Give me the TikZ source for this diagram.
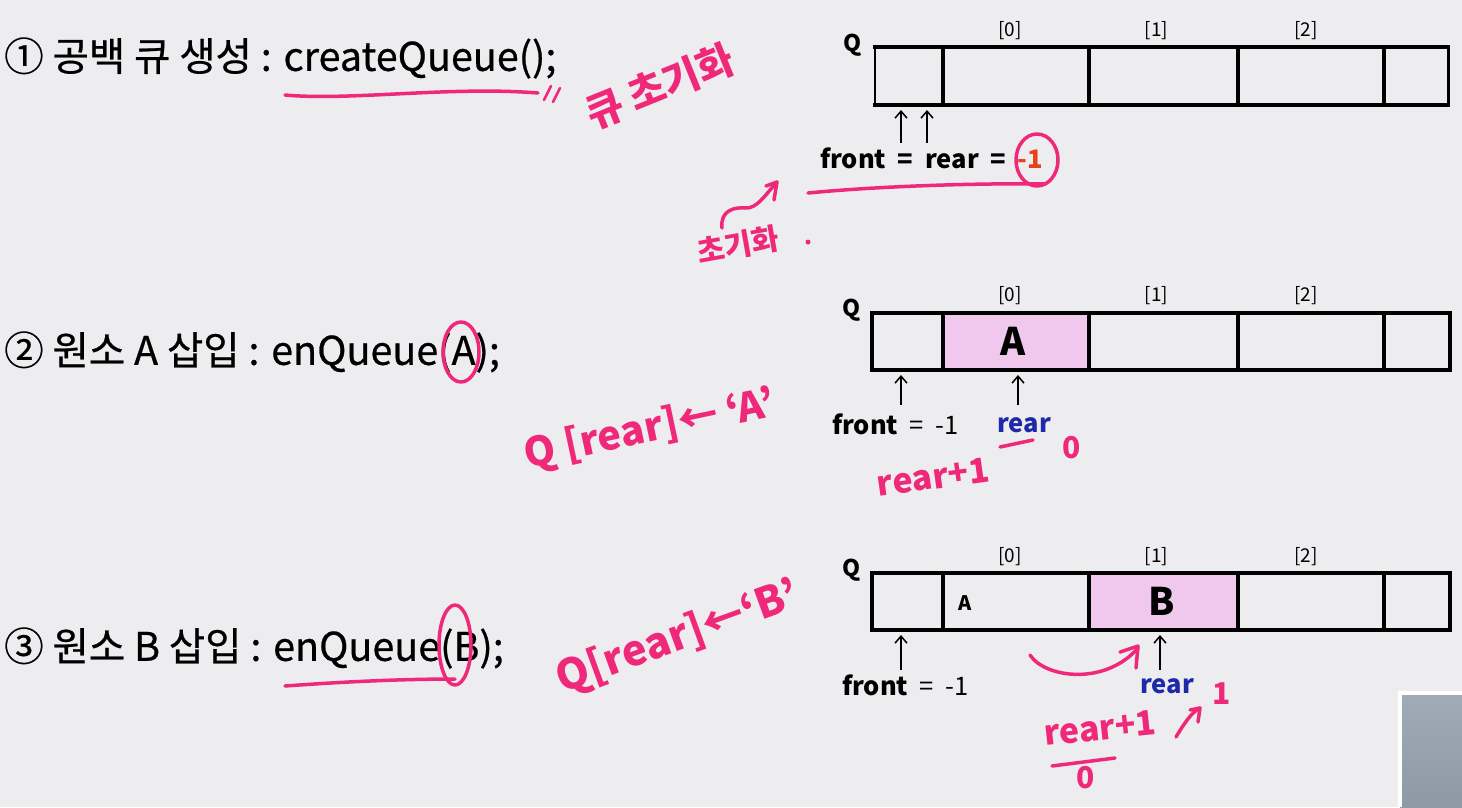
\documentclass[tikz,border=0pt]{standalone}
\usepackage{fontspec}
\setmainfont{Noto Sans CJK KR}
\newfontfamily\titlefont[FakeBold=0.6]{Noto Sans CJK KR}
\usetikzlibrary{arrows.meta}
\definecolor{bg}{RGB}{237,236,238}
\definecolor{ink}{RGB}{240,40,122}
\definecolor{cellpink}{RGB}{240,200,238}
\definecolor{rearblue}{RGB}{30,40,170}
\definecolor{minusred}{RGB}{232,64,28}
\definecolor{greyA}{RGB}{160,171,181}
\definecolor{greyB}{RGB}{142,153,164}
\begin{document}
\begin{tikzpicture}[x=1pt,y=-1pt,
  title/.style={anchor=west, font=\titlefont\fontsize{39.5}{42}\selectfont, inner sep=0pt},
  idx/.style={font=\fontsize{19}{21}\selectfont, inner sep=0pt},
  qlab/.style={font=\bfseries\fontsize{23}{25}\selectfont, inner sep=0pt},
  lbl/.style={font=\fontsize{25.5}{27}\selectfont, inner sep=0pt, anchor=west},
  rearlbl/.style={font=\bfseries\fontsize{25.5}{27}\selectfont, inner sep=0pt, text=rearblue},
  cellbox/.style={draw=none, minimum height=58pt, inner sep=0pt, outer sep=0pt, anchor=west},
  filled/.style={fill=cellpink},
  bigletter/.style={font=\bfseries\fontsize{38}{40}\selectfont, inner sep=0pt},
  smallletter/.style={font=\bfseries\fontsize{20}{22}\selectfont, inner sep=0pt},
  thickline/.style={line width=4.5pt, line cap=rect},
  ptr/.style={-{Straight Barb[length=7pt,width=12pt]}, line width=1.5pt},
  pen/.style={draw=ink, line width=3.5pt, line cap=round, line join=round},
  hand/.style={text=ink, inner sep=0pt, font=\bfseries\fontsize{40}{42}\selectfont},
  handsm/.style={text=ink, inner sep=0pt, font=\bfseries\fontsize{30}{32}\selectfont}
]
\useasboundingbox (0,0) rectangle (1462,807);
\fill[bg] (0,0) rectangle (1462,807);

% ---------- titles ----------
\node[title] (t1) at (4,58) {① 공백 큐 생성 : createQueue();};
\node[title] (t2) at (4,352) {② 원소 A 삽입 : enQueue(A);};
\node[title] (t3) at (4,648) {③ 원소 B 삽입 : enQueue(B);};

% ---------- row 1 ----------
\node[cellbox, minimum width=68pt] (r1c0) at (875,76) {};
\node[cellbox, minimum width=146pt] (r1c1) at (r1c0.east) {};
\node[cellbox, minimum width=149pt] (r1c2) at (r1c1.east) {};
\node[cellbox, minimum width=146pt] (r1c3) at (r1c2.east) {};
\node[cellbox, minimum width=64pt] (r1c4) at (r1c3.east) {};
\draw[thickline] (r1c0.north west) -- (r1c4.north east);
\draw[thickline] (r1c0.south west) -- (r1c4.south east);
\draw[line width=1.5pt] (r1c0.north west) -- (r1c0.south west);
\draw[line width=3pt] (r1c4.north east) -- (r1c4.south east);
\foreach \c in {r1c0,r1c1,r1c2,r1c3}{\draw[line width=4pt] (\c.north east) -- (\c.south east);}
\node[qlab] (q1) at ([xshift=-22pt,yshift=2pt]r1c0.north west) {Q};
\node[idx] (r1i0) at ([xshift=-6pt,yshift=16pt]r1c1.north) {[0]};
\node[idx] (r1i1) at ([xshift=-7pt,yshift=16pt]r1c2.north) {[1]};
\node[idx] (r1i2) at ([xshift=-5pt,yshift=16pt]r1c3.north) {[2]};
\node[lbl, font=\bfseries\fontsize{25.5}{27}\selectfont] (fr1) at (820,158) {front\ \ =\ \ rear\ \ =\ \ \textcolor{minusred}{-1}};
\coordinate (p1a) at (901,143);
\coordinate (p1b) at (927,143);
\draw[ptr] (p1a) -- ([yshift=-5pt]p1a |- r1c0.south);
\draw[ptr] (p1b) -- ([yshift=-5pt]p1b |- r1c0.south);

% ---------- row 2 ----------
\node[cellbox, minimum width=71pt, minimum height=57pt] (r2c0) at (872,341.5) {};
\node[cellbox, filled, minimum width=146pt, minimum height=57pt] (r2c1) at (r2c0.east) {};
\node[cellbox, minimum width=149pt, minimum height=57pt] (r2c2) at (r2c1.east) {};
\node[cellbox, minimum width=146pt, minimum height=57pt] (r2c3) at (r2c2.east) {};
\node[cellbox, minimum width=66pt, minimum height=57pt] (r2c4) at (r2c3.east) {};
\draw[thickline] (r2c0.north west) rectangle (r2c4.south east);
\foreach \c in {r2c0,r2c1,r2c2,r2c3}{\draw[line width=4pt] (\c.north east) -- (\c.south east);}
\node[qlab] (q2) at ([xshift=-20pt,yshift=3pt]r2c0.north west) {Q};
\node[idx] (r2i0) at ([xshift=-6pt,yshift=17pt]r2c1.north) {[0]};
\node[idx] (r2i1) at ([xshift=-7pt,yshift=17pt]r2c2.north) {[1]};
\node[idx] (r2i2) at ([xshift=-5pt,yshift=17pt]r2c3.north) {[2]};
\node[bigletter] (a2) at ([xshift=-3pt]r2c1.center) {A};
\node[lbl] (fr2) at (832,424) {\textbf{front}\ \ =\ \ -1};
\node[rearlbl] (re2) at (1024,425) {rear};
\coordinate (p2a) at (901,405);
\coordinate (p2b) at (1018,405);
\draw[ptr] (p2a) -- ([yshift=-5pt]p2a |- r2c0.south);
\draw[ptr] (p2b) -- ([yshift=-5pt]p2b |- r2c1.south);

% ---------- row 3 ----------
\node[cellbox, minimum width=71pt, minimum height=57pt] (r3c0) at (872,601.5) {};
\node[cellbox, minimum width=146pt, minimum height=57pt] (r3c1) at (r3c0.east) {};
\node[cellbox, filled, minimum width=149pt, minimum height=57pt] (r3c2) at (r3c1.east) {};
\node[cellbox, minimum width=146pt, minimum height=57pt] (r3c3) at (r3c2.east) {};
\node[cellbox, minimum width=66pt, minimum height=57pt] (r3c4) at (r3c3.east) {};
\draw[thickline] (r3c0.north west) rectangle (r3c4.south east);
\foreach \c in {r3c0,r3c1,r3c2,r3c3}{\draw[line width=4pt] (\c.north east) -- (\c.south east);}
\node[qlab] (q3) at ([xshift=-20pt,yshift=3pt]r3c0.north west) {Q};
\node[idx] (r3i0) at ([xshift=-6pt,yshift=16pt]r3c1.north) {[0]};
\node[idx] (r3i1) at ([xshift=-7pt,yshift=16pt]r3c2.north) {[1]};
\node[idx] (r3i2) at ([xshift=-5pt,yshift=16pt]r3c3.north) {[2]};
\node[smallletter] (a3) at (965,603) {A};
\node[bigletter] (b3) at ([xshift=-2pt]r3c2.center) {B};
\node[lbl] (fr3) at (842,685) {\textbf{front}\ \ =\ \ -1};
\node[rearlbl] (re3) at (1167,686) {rear};
\coordinate (p3a) at (901,670);
\coordinate (p3b) at (1160,670);
\draw[ptr] (p3a) -- ([yshift=-5pt]p3a |- r3c0.south);
\draw[ptr] (p3b) -- ([yshift=-5pt]p3b |- r3c2.south);

% ---------- grey overlay ----------
\shade[top color=greyA, bottom color=greyB] (1400,693) rectangle (1462,807);
\draw[white, line width=4pt] (1400,807) -- (1400,693) -- (1462,693);

% ---------- pink annotations ----------
% step 1
\draw[pen] (285,95) .. controls (350,101) and (450,86) .. (538,93);
\draw[pen, line width=2.5pt] (544,100) -- (551,86);
\draw[pen, line width=2.5pt] (553,102) -- (560,88);
\node[hand, rotate=22] (h1) at (660,86) {큐 초기화};
\draw[pen] (808,193) .. controls (880,186) and (980,183) .. (1045,184);
\draw[pen] (1037,160) ellipse [x radius=21, y radius=26];
\draw[pen] (722,228) .. controls (720,210) and (735,207) .. (745,208)
  .. controls (757,209) and (765,195) .. (777,182);
\draw[pen] (766,186) -- (777,182) -- (774,200);
\node[handsm, rotate=10] (h2) at (738,245) {초기화};
\fill[ink] (808,242) circle (2.5);

% step 2
\draw[pen] (461,352) ellipse [x radius=18, y radius=30];
\node[hand, rotate=12] (h3) at (650,430) {Q [rear]← ‘A’};
\draw[pen] (1000,447) -- (1033,440);
\node[handsm] (h4) at (1072,448) {0};
\node[hand, rotate=8, font=\bfseries\fontsize{34}{36}\selectfont] (h5) at (933,477) {rear+1};

% step 3
\draw[pen] (455,645) ellipse [x radius=16, y radius=40];
\draw[pen] (285,686) .. controls (340,682) and (400,679) .. (455,679);
\node[hand, rotate=20, font=\bfseries\fontsize{42}{44}\selectfont] (h6) at (678,638) {Q[rear]←‘B’};
\draw[pen] (1030,655) .. controls (1045,678) and (1105,686) .. (1138,648);
\draw[pen] (1120,652) -- (1138,646) -- (1136,668);
\node[hand, rotate=6, font=\bfseries\fontsize{34}{36}\selectfont] (h7) at (1100,728) {rear+1};
\draw[pen] (1052,766) -- (1115,758);
\node[handsm] (h8) at (1086,778) {0};
\draw[pen] (1176,737) .. controls (1185,722) and (1192,712) .. (1200,708);
\draw[pen] (1190,710) -- (1200,708) -- (1198,722);
\node[handsm] (h9) at (1222,694) {1};
\end{tikzpicture}
\end{document}
